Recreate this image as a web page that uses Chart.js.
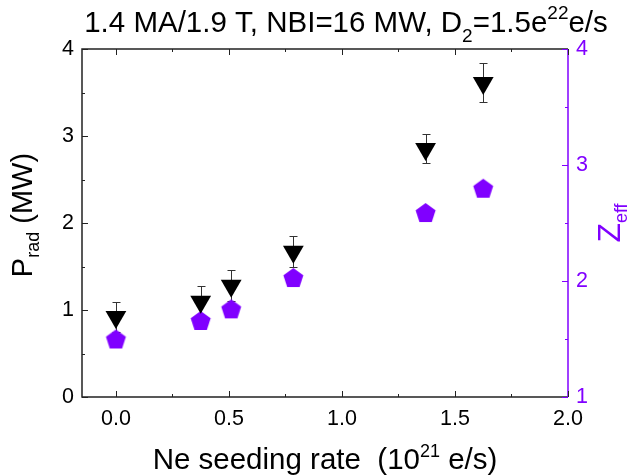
<!DOCTYPE html>
<html>
<head>
<meta charset="utf-8">
<script src="https://cdn.jsdelivr.net/npm/chart.js@4"></script>
<style>
  html, body { margin: 0; padding: 0; background: #fff; }
  #wrap { width: 627px; height: 475px; position: relative; }
</style>
</head>
<body>
<div id="wrap"><canvas id="prChart" width="627" height="475"></canvas></div>
<script>
// Ne seeding rate (1e21 e/s)
var seedRate = [0, 0.375, 0.51, 0.785, 1.37, 1.625];
// Prad (MW) and its error bar ends
var pRad = [0.92, 1.095, 1.28, 1.67, 2.85, 3.61];
var pRadHigh = [1.09, 1.28, 1.46, 1.85, 3.02, 3.84];
var pRadLow = [0.75, 0.91, 1.10, 1.49, 2.69, 3.39];
// Zeff
var zEff = [1.50, 1.66, 1.76, 2.03, 2.59, 2.80];

var xTicks = [0, 0.5, 1.0, 1.5, 2.0];
var leftTicks = [0, 1, 2, 3, 4];
var rightTicks = [1, 2, 3, 4];

var PURPLE = '#8000ff';
var FONT = '"Liberation Sans", Arial, sans-serif';

// pentagon marker (Chart.js has none)
function pentagon(R, color) {
    var c = document.createElement('canvas');
    c.width = 2 * R + 2; c.height = 2 * R + 2;
    var g = c.getContext('2d');
    var cy = c.height / 2 + (R - R * Math.cos(Math.PI / 5)) / 2;
    g.beginPath();
    for (var i = 0; i < 5; i++) {
        var a = -Math.PI / 2 + i * 2 * Math.PI / 5;
        var px = c.width / 2 + R * Math.cos(a), py = cy + R * Math.sin(a);
        if (i === 0) g.moveTo(px, py); else g.lineTo(px, py);
    }
    g.closePath();
    g.fillStyle = color;
    g.fill();
    return c;
}

function drawRich(ctx, parts, x, y, angle, color) {
    ctx.save();
    ctx.translate(x, y);
    ctx.rotate(angle);
    ctx.fillStyle = color;
    ctx.textAlign = 'left';
    ctx.textBaseline = 'alphabetic';
    var total = 0;
    parts.forEach(function (p) {
        ctx.font = p[1] + 'px ' + FONT;
        p.w = ctx.measureText(p[0]).width;
        total += p.w;
    });
    var cx = -total / 2;
    parts.forEach(function (p) {
        ctx.font = p[1] + 'px ' + FONT;
        ctx.fillText(p[0], cx, p[2] || 0);
        cx += p.w;
    });
    ctx.restore();
}

var framePlugin = {
    id: 'frame',
    beforeDatasetsDraw: function (chart) {
        var ctx = chart.ctx, a = chart.chartArea;
        var sx = chart.scales.x, sy = chart.scales.y, sy1 = chart.scales.y1;
        ctx.save();
        // error bars
        ctx.strokeStyle = '#333';
        ctx.lineWidth = 1;
        for (var i = 0; i < seedRate.length; i++) {
            var px = Math.round(sx.getPixelForValue(seedRate[i])) + 0.5;
            var hi = Math.round(sy.getPixelForValue(pRadHigh[i])) + 0.5;
            var lo = Math.round(sy.getPixelForValue(pRadLow[i])) + 0.5;
            ctx.beginPath();
            ctx.moveTo(px, hi); ctx.lineTo(px, lo);
            ctx.moveTo(px - 4, hi); ctx.lineTo(px + 4, hi);
            ctx.moveTo(px - 4, lo); ctx.lineTo(px + 4, lo);
            ctx.stroke();
        }
        // frame
        ctx.lineWidth = 1.5;
        ctx.strokeStyle = '#222';
        ctx.beginPath();
        ctx.moveTo(a.right, a.top); ctx.lineTo(a.left, a.top);
        ctx.lineTo(a.left, a.bottom); ctx.lineTo(a.right, a.bottom);
        ctx.stroke();
        ctx.strokeStyle = PURPLE;
        ctx.beginPath();
        ctx.moveTo(a.right, a.top); ctx.lineTo(a.right, a.bottom);
        ctx.stroke();
        // inward ticks
        ctx.lineWidth = 1;
        ctx.strokeStyle = '#222';
        ctx.beginPath();
        for (var v = 0; v <= 2.001; v += 0.25) {
            var len = (Math.abs(v * 2 - Math.round(v * 2)) < 1e-6) ? 6 : 3;
            var x = Math.round(sx.getPixelForValue(v)) + 0.5;
            ctx.moveTo(x, a.bottom); ctx.lineTo(x, a.bottom - len);
            ctx.moveTo(x, a.top); ctx.lineTo(x, a.top + len);
        }
        for (var w = 0; w <= 4.001; w += 0.5) {
            var l2 = (Math.abs(w - Math.round(w)) < 1e-6) ? 6 : 3;
            var y = Math.round(sy.getPixelForValue(w)) + 0.5;
            ctx.moveTo(a.left, y); ctx.lineTo(a.left + l2, y);
        }
        ctx.stroke();
        ctx.strokeStyle = PURPLE;
        ctx.beginPath();
        for (var z = 1; z <= 4.001; z += 0.5) {
            var l3 = (Math.abs(z - Math.round(z)) < 1e-6) ? 6 : 3;
            var y1 = Math.round(sy1.getPixelForValue(z)) + 0.5;
            ctx.moveTo(a.right, y1); ctx.lineTo(a.right - l3, y1);
        }
        ctx.stroke();
        ctx.restore();
    },
    afterDraw: function (chart) {
        var ctx = chart.ctx;
        drawRich(ctx, [['1.4 MA/1.9 T, NBI=16 MW, D', 29.5], ['2', 19, 10], ['=1.5e', 29.5], ['22', 19, -13], ['e/s', 29.5]], 346, 32, 0, '#000');
        drawRich(ctx, [['Ne seeding rate  (10', 29.5], ['21', 18, -12], [' e/s)', 29.5]], 325, 469, 0, '#000');
        drawRich(ctx, [['P', 29], ['rad', 18, 7], [' (MW)', 29]], 32, 215, -Math.PI / 2, '#000');
        drawRich(ctx, [['Z', 32], ['eff', 18, 7]], 620, 223, -Math.PI / 2, PURPLE);
    }
};

function fixed(size, key) {
    return function (scale) { scale[key] = size; };
}

var ctx = document.getElementById('prChart').getContext('2d');
var chart = new Chart(ctx, {
    type: 'scatter',
    data: {
        datasets: [{
            label: 'Prad',
            data: seedRate.map(function (x, i) { return { x: x, y: pRad[i] }; }),
            yAxisID: 'y',
            pointStyle: 'triangle',
            rotation: 180,
            radius: 12,
            hoverRadius: 12,
            backgroundColor: '#000',
            borderColor: '#000',
            borderWidth: 0
        }, {
            label: 'Zeff',
            data: seedRate.map(function (x, i) { return { x: x, y: zEff[i] }; }),
            yAxisID: 'y1',
            pointStyle: pentagon(10.5, PURPLE),
            radius: 10.5,
            backgroundColor: PURPLE,
            borderWidth: 0
        }]
    },
    options: {
        responsive: false,
        animation: false,
        layout: { padding: { top: 49, left: 0, right: 0, bottom: 0 } },
        plugins: { legend: { display: false }, tooltip: { enabled: false } },
        scales: {
            x: {
                type: 'linear', position: 'bottom', min: -0.15, max: 2.0,
                afterBuildTicks: function (s) { s.ticks = xTicks.map(function (v) { return { value: v }; }); },
                afterFit: fixed(78, 'height'),
                grid: { display: false, drawTicks: false },
                border: { display: false },
                ticks: {
                    padding: 9, color: '#000', maxRotation: 0,
                    font: { family: FONT, size: 21.5 },
                    callback: function (v) { return Number(v).toFixed(1); }
                }
            },
            y: {
                type: 'linear', position: 'left', min: 0, max: 4,
                afterBuildTicks: function (s) { s.ticks = leftTicks.map(function (v) { return { value: v }; }); },
                afterFit: fixed(82, 'width'),
                grid: { display: false, drawTicks: false },
                border: { display: false },
                ticks: { padding: 8, color: '#000', font: { family: FONT, size: 21.5 } }
            },
            y1: {
                type: 'linear', position: 'right', min: 1, max: 4,
                afterBuildTicks: function (s) { s.ticks = rightTicks.map(function (v) { return { value: v }; }); },
                afterFit: fixed(59, 'width'),
                grid: { display: false, drawTicks: false },
                border: { display: false },
                ticks: { padding: 8, color: PURPLE, font: { family: FONT, size: 21.5 } }
            }
        }
    },
    plugins: [framePlugin]
});
</script>
</body>
</html>
